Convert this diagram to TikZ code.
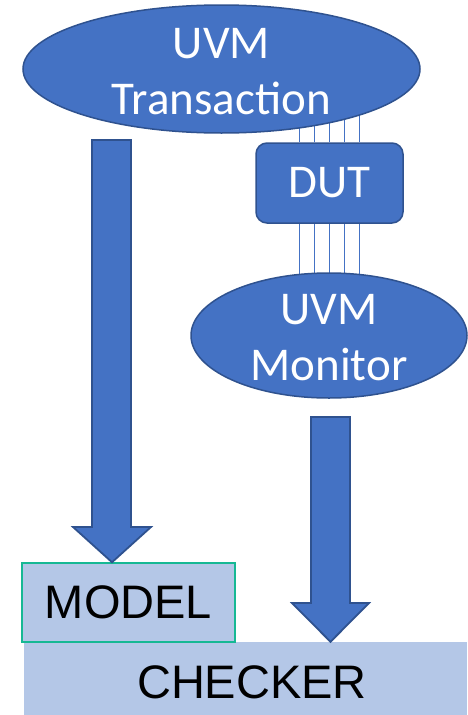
\documentclass[tikz,border=0pt]{standalone}
\usepackage{fontspec}
\setmainfont{Carlito}
\newfontfamily\arialfont{Liberation Sans}
\usetikzlibrary{shapes.geometric}
\definecolor{accentblue}{HTML}{4472C4}
\definecolor{edgeblue}{HTML}{2F528F}
\definecolor{paleblue}{HTML}{B4C7E7}
\definecolor{modeledge}{RGB}{22,184,148}
\pgfdeclarelayer{bg}
\pgfsetlayers{bg,main}
\tikzset{
  bubble/.style={ellipse, fill=accentblue, draw=edgeblue, line width=1.5pt, inner sep=0pt},
  whitetext/.style={text=white, font=\fontsize{47}{56}\selectfont, align=center, inner sep=0pt},
  chip/.style={rectangle, rounded corners=11pt, fill=accentblue, draw=edgeblue,
    line width=1.5pt, text=white, font=\fontsize{47}{56}\selectfont, inner sep=0pt},
  wire/.style={draw=accentblue, line width=1pt},
  blockarrow/.style={fill=accentblue, draw=edgeblue, line width=1.8pt, line join=miter},
  panel/.style={rectangle, fill=paleblue, inner sep=0pt, text=black,
    font=\arialfont\fontsize{47}{56}\selectfont},
}
\begin{document}
\begin{tikzpicture}[x=1pt, y=-1pt]
  \useasboundingbox (0,0) rectangle (467,715);

  % checker strip and model box
  \node[panel, minimum width=443pt, minimum height=73pt] (checker) at (245.5,678.5) {};
  \node[panel, text=black] (checkertext) at (252,682) {CHECKER};
  \node[panel, draw=modeledge, line width=1.5pt, minimum width=213pt, minimum height=79pt]
    (model) at (128.5,602.5) {MODEL};

  % transaction source, DUT and monitor
  \node[bubble, minimum width=397pt, minimum height=128pt] (trans) at (221.5,69) {};
  \node[whitetext] (transtext) at ([yshift=-2.5pt]trans.center) {UVM\\Transaction};
  \node[chip, minimum width=147pt, minimum height=80pt] (dut) at (329.5,183) {DUT};
  \node[bubble, minimum width=276pt, minimum height=125pt] (mon) at (329,335.5) {};
  \node[whitetext] (montext) at ([yshift=-2.5pt]mon.center) {UVM\\Monitor};

  % parallel signal wires through the DUT
  \begin{pgfonlayer}{bg}
    \foreach \dx in {-30,-15,0,15,30} {
      \draw[wire] ([xshift=\dx pt]dut.center |- trans.center) -- ([xshift=\dx pt]dut.north);
      \draw[wire] ([xshift=\dx pt]dut.south) -- ([xshift=\dx pt]dut.center |- mon.center);
    }
  \end{pgfonlayer}

  % block arrow: transaction to model
  \coordinate (tipA) at (model.north -| 112,0);
  \draw[blockarrow] (92,140) -- (131,140) -- (131,527) -- (151,527) -- (tipA)
    -- (73,527) -- (92,527) -- cycle;

  % block arrow: monitor to checker
  \coordinate (tipB) at (checker.north -| 330.5,0);
  \draw[blockarrow] (311,417) -- (350,417) -- (350,603) -- (369,603) -- (tipB)
    -- (292,603) -- (311,603) -- cycle;
\end{tikzpicture}
\end{document}
